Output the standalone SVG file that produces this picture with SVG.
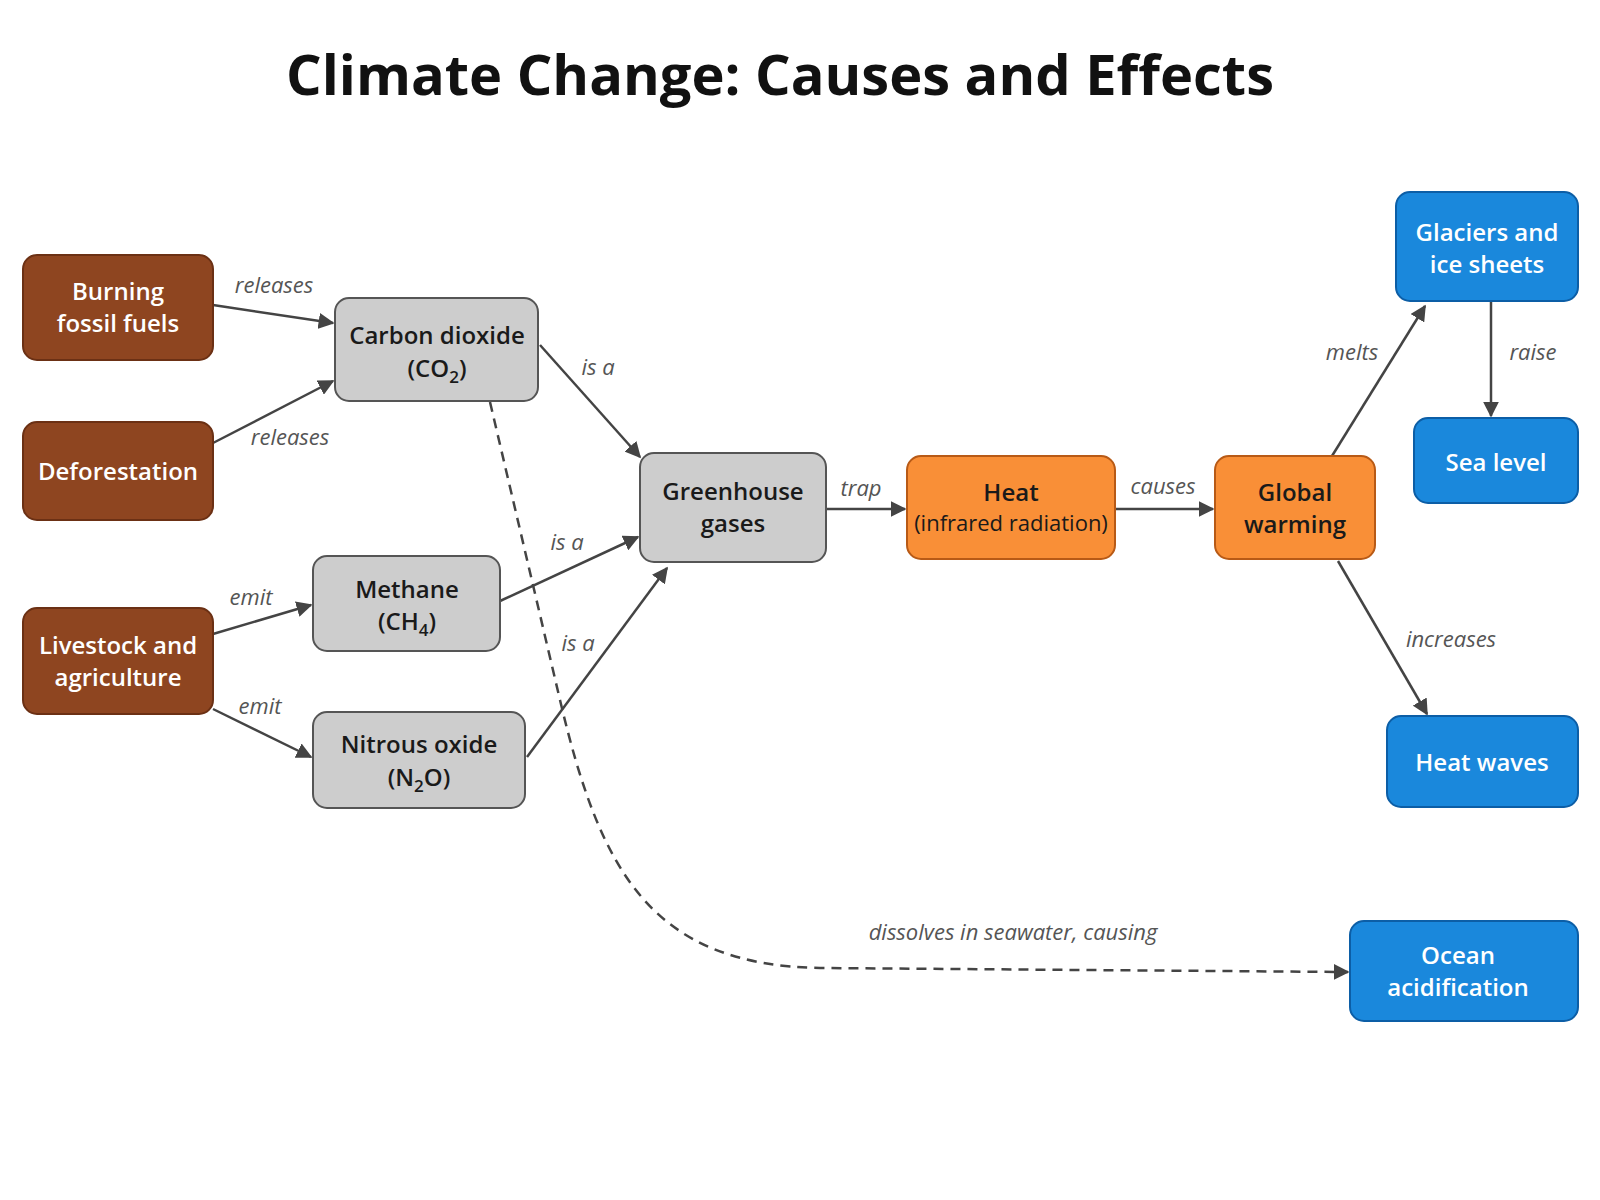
<svg xmlns="http://www.w3.org/2000/svg" width="1600" height="1200" viewBox="0 0 1600 1200">
<defs>
<marker id="ah" viewBox="0 0 10 10" refX="9" refY="5" markerWidth="9" markerHeight="9" markerUnits="userSpaceOnUse" orient="auto"><path d="M0,0 L10,5 L0,10 z" fill="#444"/></marker>
<marker id="ah2" viewBox="0 0 10 10" refX="9" refY="5" markerWidth="16" markerHeight="16" markerUnits="userSpaceOnUse" orient="auto"><path d="M0,0 L10,5 L0,10 z" fill="#444"/></marker>
<style>
text{font-family:"Open Sans","Noto Sans","Liberation Sans",sans-serif}
.t{font-size:24px;font-weight:600;text-anchor:middle}
.w{fill:#fff}.d{fill:#1a1a1a}
.br{fill:#8e4520;stroke:#6b3014;stroke-width:2}
.gr{fill:#cdcdcd;stroke:#555;stroke-width:2}
.or{fill:#f98f37;stroke:#b85a16;stroke-width:2}
.bl{fill:#1a88dc;stroke:#0c5ea6;stroke-width:2}
.e{fill:none;stroke:#444;stroke-width:2.5}
.l{font-size:22px;font-style:italic;fill:#555;text-anchor:middle}
</style>
</defs>
<rect width="1600" height="1200" fill="#fff"/>
<text x="780" y="95" style="font-size:56px;font-weight:700;text-anchor:middle" fill="#111">Climate Change: Causes and Effects</text>

<g id="connectors">
<path class="e" marker-end="url(#ah2)" d="M213,305 L333,323"/>
<path class="e" marker-end="url(#ah2)" d="M213,443 L333,381"/>
<path class="e" marker-end="url(#ah2)" d="M213,634 L311,605"/>
<path class="e" marker-end="url(#ah2)" d="M213,709 L311,757"/>
<path class="e" marker-end="url(#ah2)" d="M540,345 L640,457"/>
<path class="e" marker-end="url(#ah2)" d="M500,601 L638,537"/>
<path class="e" marker-end="url(#ah2)" d="M527,757 L667,568"/>
<path class="e" marker-end="url(#ah2)" d="M826,509 L905,509"/>
<path class="e" marker-end="url(#ah2)" d="M1115,509 L1213,509"/>
<path class="e" marker-end="url(#ah2)" d="M1332,456 L1425,306"/>
<path class="e" marker-end="url(#ah2)" d="M1491,301 L1491,416"/>
<path class="e" marker-end="url(#ah2)" d="M1338,561 L1427,714"/>
<path class="e" stroke-dasharray="10,7" marker-end="url(#ah2)" d="M490,402 L560,700 C600,870 650,965 820,968 L1348,972"/>
<text class="l" x="274" y="293">releases</text>
<text class="l" x="290" y="445">releases</text>
<text class="l" x="251" y="605">emit</text>
<text class="l" x="260" y="714">emit</text>
<text class="l" x="598" y="375">is a</text>
<text class="l" x="567" y="550">is a</text>
<text class="l" x="578" y="651">is a</text>
<text class="l" x="861" y="496">trap</text>
<text class="l" x="1163" y="494">causes</text>
<text class="l" x="1352" y="360">melts</text>
<text class="l" x="1533" y="360">raise</text>
<text class="l" x="1451" y="647">increases</text>
<text class="l" x="1013" y="940">dissolves in seawater, causing</text>
</g>

<g id="burning"><rect class="br" x="23" y="255" width="190" height="105" rx="14"/><text class="t w" x="118" y="300">Burning</text><text class="t w" x="118" y="332">fossil fuels</text></g>
<g id="deforestation"><rect class="br" x="23" y="422" width="190" height="98" rx="14"/><text class="t w" x="118" y="480">Deforestation</text></g>
<g id="livestock"><rect class="br" x="23" y="608" width="190" height="106" rx="14"/><text class="t w" x="118" y="654">Livestock and</text><text class="t w" x="118" y="686">agriculture</text></g>
<g id="co2"><rect class="gr" x="335" y="298" width="203" height="103" rx="14"/><text class="t d" x="437" y="344">Carbon dioxide</text><text class="t d" x="437" y="377">(CO<tspan font-size="17" dy="6">2</tspan><tspan dy="-6">)</tspan></text></g>
<g id="methane"><rect class="gr" x="313" y="556" width="187" height="95" rx="14"/><text class="t d" x="407" y="598">Methane</text><text class="t d" x="407" y="630">(CH<tspan font-size="17" dy="6">4</tspan><tspan dy="-6">)</tspan></text></g>
<g id="n2o"><rect class="gr" x="313" y="712" width="212" height="96" rx="14"/><text class="t d" x="419" y="753">Nitrous oxide</text><text class="t d" x="419" y="786">(N<tspan font-size="17" dy="6">2</tspan><tspan dy="-6">O)</tspan></text></g>
<g id="ghg"><rect class="gr" x="640" y="453" width="186" height="109" rx="14"/><text class="t d" x="733" y="500">Greenhouse</text><text class="t d" x="733" y="532">gases</text></g>
<g id="heat"><rect class="or" x="907" y="456" width="208" height="103" rx="14"/><text class="t d" x="1011" y="501">Heat</text><text class="d" x="1011" y="531" style="font-size:22px;text-anchor:middle">(infrared radiation)</text></g>
<g id="warming"><rect class="or" x="1215" y="456" width="160" height="103" rx="14"/><text class="t d" x="1295" y="501">Global</text><text class="t d" x="1295" y="533">warming</text></g>
<g id="glaciers"><rect class="bl" x="1396" y="192" width="182" height="109" rx="14"/><text class="t w" x="1487" y="241">Glaciers and</text><text class="t w" x="1487" y="273">ice sheets</text></g>
<g id="sealevel"><rect class="bl" x="1414" y="418" width="164" height="85" rx="14"/><text class="t w" x="1496" y="471">Sea level</text></g>
<g id="heatwaves"><rect class="bl" x="1387" y="716" width="191" height="91" rx="14"/><text class="t w" x="1482" y="771">Heat waves</text></g>
<g id="ocean"><rect class="bl" x="1350" y="921" width="228" height="100" rx="14"/><text class="t w" x="1458" y="964">Ocean</text><text class="t w" x="1458" y="996">acidification</text></g>
</svg>
